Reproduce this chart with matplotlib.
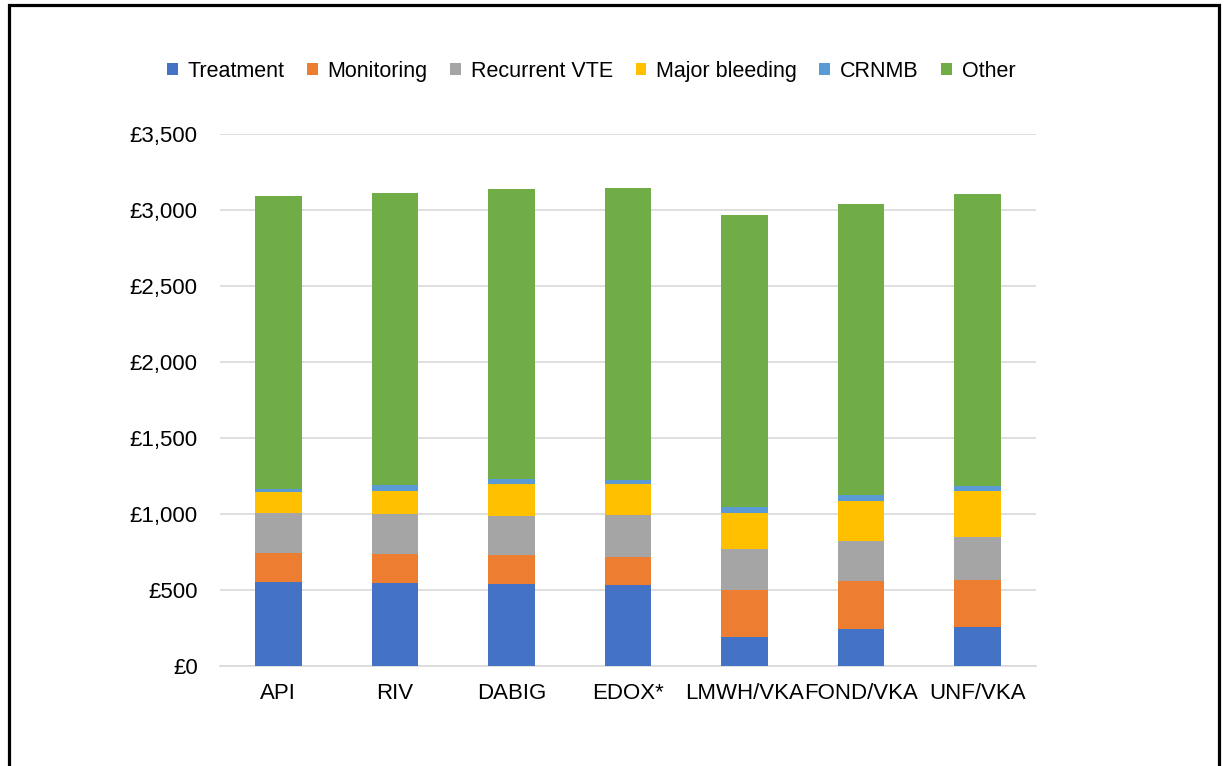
import matplotlib.pyplot as plt
from matplotlib.patches import Rectangle
import numpy as np

plt.rcParams['font.family'] = ['Liberation Sans', 'DejaVu Sans']

# ======================
# DATA
# ======================
categories = ["API", "RIV", "DABIG", "EDOX*", "LMWH/VKA", "FOND/VKA", "UNF/VKA"]
treatment  = [553, 546, 539, 531, 193, 246, 254]
monitoring = [188, 191, 189, 184, 307, 311, 312]
recurrent  = [263, 263, 259, 276, 272, 268, 281]
major_bl   = [141, 149, 210, 206, 237, 263, 302]
crnmb      = [17, 40, 31, 27, 35, 35, 35]
other      = [1930, 1925, 1912, 1921, 1921, 1916, 1921]

series = [
    ("Treatment", treatment, "#4472C4"),
    ("Monitoring", monitoring, "#ED7D31"),
    ("Recurrent VTE", recurrent, "#A5A5A5"),
    ("Major bleeding", major_bl, "#FFC000"),
    ("CRNMB", crnmb, "#5B9BD5"),
    ("Other", other, "#70AD47"),
]
yticks = [0, 500, 1000, 1500, 2000, 2500, 3000, 3500]

# ======================
# PLOT
# ======================
fig = plt.figure(figsize=(12.24, 7.66), dpi=100)
ax = fig.add_axes([0.1797, 0.1305, 0.6667, 0.6945])

x = np.arange(len(categories))
bottom = np.zeros(len(categories))
for name, vals, col in series:
    ax.bar(x, vals, 0.4, bottom=bottom, color=col, label=name, zorder=3)
    bottom += np.array(vals)

ax.set_xlim(-0.5, len(categories) - 0.5)
ax.set_ylim(0, 3500)
ax.set_yticks(yticks)
ax.set_yticklabels([f"£{v:,}" for v in yticks])
ax.set_xticks(x)
ax.set_xticklabels(categories)
ax.tick_params(axis="both", length=0, labelsize=16, colors="#000000")
ax.tick_params(axis="y", pad=16)
ax.tick_params(axis="x", pad=12)
ax.grid(axis="y", color="#D9D9D9", linewidth=1.2, zorder=0)
for s in ["top", "right", "left"]:
    ax.spines[s].set_visible(False)
ax.spines["bottom"].set_color("#D9D9D9")
ax.spines["bottom"].set_linewidth(1.2)

fig.legend(loc="center", bbox_to_anchor=(0.483, 0.907), ncol=6, frameon=False,
           fontsize=15.5, handlelength=0.5, handleheight=0.5,
           handletextpad=0.45, columnspacing=1.05)

# frame around the figure
fig.patches.append(Rectangle((9 / 1224, -0.05), 1210 / 1224, 1.05 - 5 / 766,
                             transform=fig.transFigure, fill=False,
                             edgecolor="black", linewidth=2.3))

fig.savefig("out.png", dpi=100)
